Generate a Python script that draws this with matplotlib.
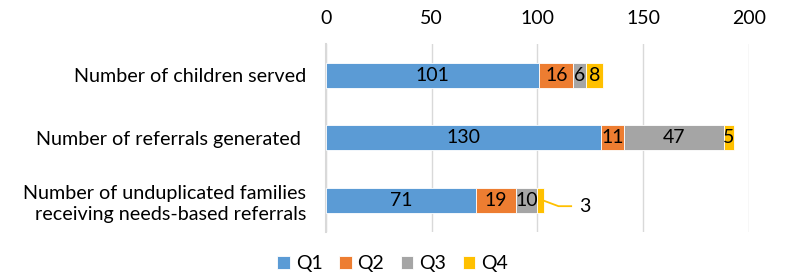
import matplotlib
matplotlib.use("Agg")
import matplotlib.pyplot as plt
import numpy as np

plt.rcParams['font.family'] = ['Lato', 'DejaVu Sans']

categories = [
    "Number of children served",
    "Number of referrals generated ",
    "Number of unduplicated families\nreceiving needs-based referrals",
]
series_names = ["Q1", "Q2", "Q3", "Q4"]
q1 = [101, 130, 71]
q2 = [16, 11, 19]
q3 = [6, 47, 10]
q4 = [8, 5, 3]
colors = ["#5B9BD5", "#ED7D31", "#A5A5A5", "#FFC000"]

FS = 14

fig = plt.figure(figsize=(7.85, 2.73), dpi=100)
ax = fig.add_axes([0.415, 0.15, 0.539, 0.69])

y = np.arange(len(categories))
left = np.zeros(len(categories))
for name, vals, col in zip(series_names, [q1, q2, q3, q4], colors):
    vals = np.array(vals, dtype=float)
    ax.barh(y, vals, left=left, height=0.4, color=col, label=name,
            edgecolor="white", linewidth=0.6, zorder=3)
    for i, v in enumerate(vals):
        # small Q4 value in last row gets a callout instead
        if name == "Q4" and i == 2:
            end = left[i] + v
            ax.plot([end, end + 7, end + 13], [y[i], y[i] + 0.088, y[i] + 0.088],
                    color=col, lw=1.3, zorder=4, clip_on=False)
            ax.text(end + 19.5, y[i] + 0.088, f"{int(v)}", ha="center", va="center",
                    fontsize=FS, color="black")
            continue
        ax.text(left[i] + v / 2, y[i], f"{int(v)}", ha="center", va="center",
                fontsize=FS, color="black", zorder=5)
    left += vals

ax.set_xlim(0, 200)
ax.set_ylim(2.5, -0.5)
ax.set_xticks([0, 50, 100, 150, 200])
ax.xaxis.tick_top()
ax.tick_params(axis="x", length=0, labelsize=FS, pad=12)
ax.set_yticks(y)
ax.set_yticklabels(categories, fontsize=14.2, linespacing=1.25)
ax.tick_params(axis="y", length=0, pad=14)
ax.grid(axis="x", color="#D9D9D9", linewidth=1, zorder=0)
for s in ["top", "right", "bottom"]:
    ax.spines[s].set_visible(False)
ax.spines["left"].set_color("#D9D9D9")
ax.spines["left"].set_linewidth(1.5)

fig.legend(loc="lower center", bbox_to_anchor=(0.5, -0.06), ncol=4, frameon=False,
           fontsize=FS, handlelength=0.65, handleheight=0.65, handletextpad=0.3,
           columnspacing=0.85)

fig.savefig("out.png", dpi=100)
